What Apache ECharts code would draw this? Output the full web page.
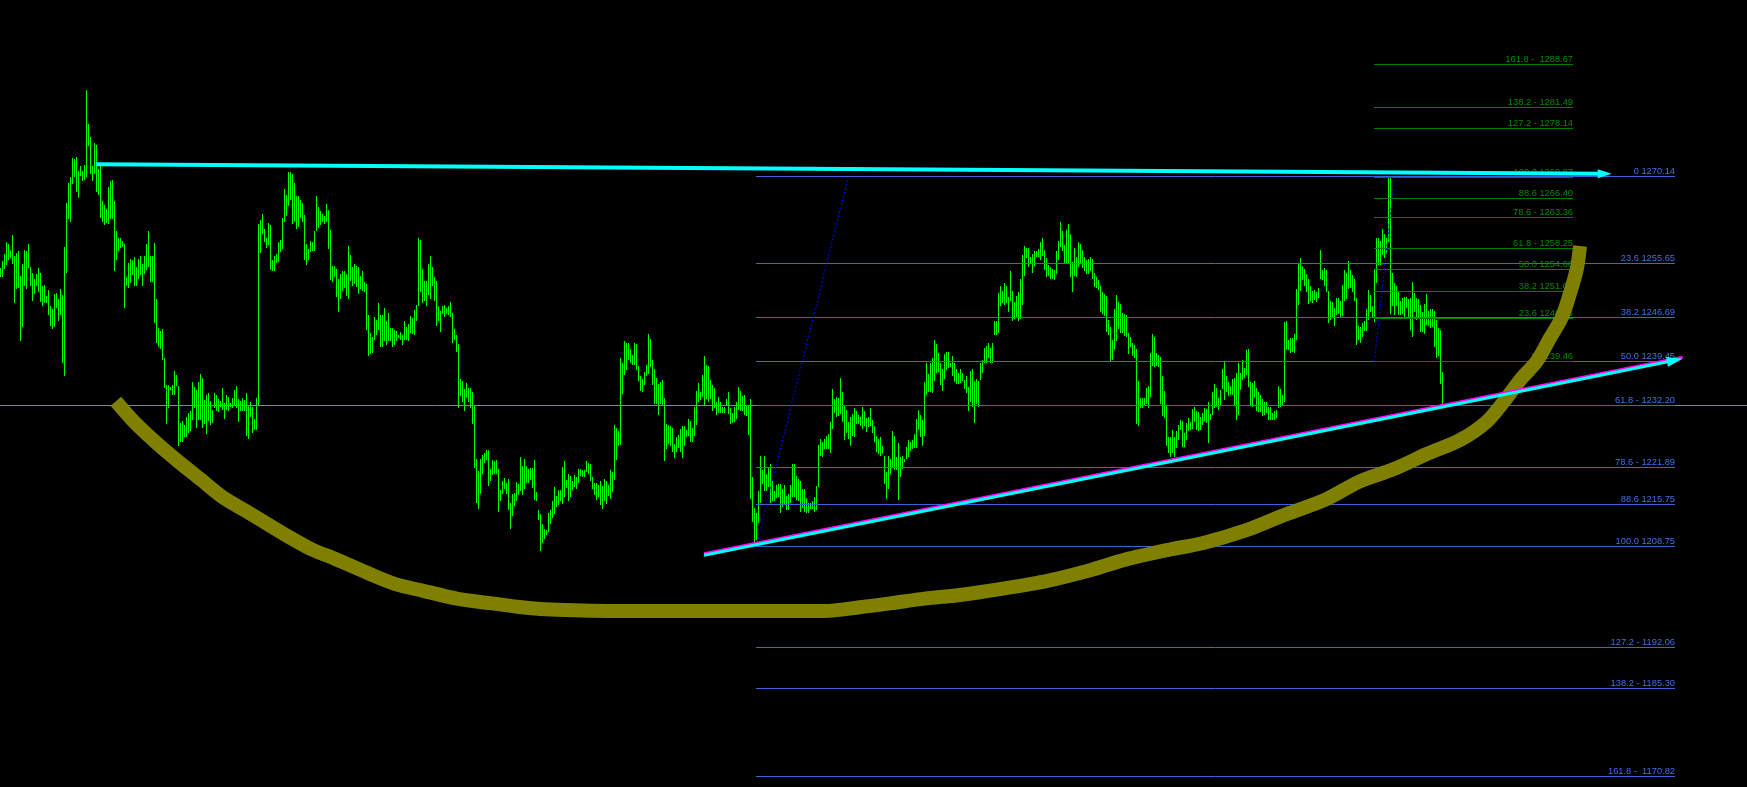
<!DOCTYPE html>
<html><head><meta charset="utf-8">
<script src="https://cdn.jsdelivr.net/npm/echarts@6.0.0/dist/echarts.min.js"></script>
<style>html,body{margin:0;padding:0;background:#000;overflow:hidden}#c{width:1747px;height:787px}</style>
</head><body><div id="c"></div>
<script>
// ---- price bars (one per bar index) ----
const highs = [
1254.9,1256.1,1257.3,1259.2,1259.0,1257.9,1260.4,1257.0,1257.4,1257.8,
1253.6,1255.7,1257.9,1257.7,1258.9,1255.1,1254.2,1253.1,1254.0,1255.0,
1254.2,1251.9,1252.1,1250.3,1251.3,1248.7,1248.1,1250.7,1250.8,1249.8,
1251.4,1250.5,1258.4,1265.8,1269.0,1270.0,1273.1,1273.0,1273.3,1271.0,
1271.9,1271.1,1272.0,1284.4,1278.8,1276.6,1271.9,1275.6,1275.3,1271.4,
1271.9,1266.1,1265.4,1264.8,1268.4,1269.3,1269.5,1266.1,1261.1,1260.0,
1260.0,1259.5,1258.9,1253.4,1255.8,1256.4,1256.3,1256.8,1255.2,1256.4,
1257.0,1255.7,1256.9,1258.9,1261.1,1256.9,1257.0,1259.1,1249.9,1245.0,
1244.6,1244.8,1240.0,1235.6,1235.6,1235.3,1235.6,1237.9,1237.2,1235.4,
1229.3,1229.6,1229.0,1230.3,1230.9,1231.3,1236.0,1235.3,1234.7,1236.1,
1237.4,1236.7,1233.1,1233.9,1234.2,1232.9,1231.4,1234.2,1233.9,1233.2,
1233.0,1235.0,1232.6,1233.9,1233.6,1232.6,1233.5,1234.7,1235.4,1233.2,
1232.9,1233.4,1233.1,1234.2,1232.1,1232.7,1232.0,1229.9,1233.5,1262.2,
1262.9,1263.9,1261.4,1260.0,1262.4,1262.1,1256.3,1256.9,1257.3,1259.3,
1259.6,1263.2,1268.0,1267.0,1270.8,1270.8,1270.5,1269.1,1266.9,1266.9,
1266.2,1265.7,1263.7,1258.9,1258.1,1259.4,1259.2,1261.1,1266.9,1265.1,
1264.4,1263.9,1263.5,1265.6,1264.6,1261.3,1255.3,1255.3,1254.8,1253.1,
1254.0,1254.4,1254.5,1253.9,1258.6,1257.1,1255.2,1255.6,1255.3,1255.1,
1253.7,1254.5,1252.6,1252.3,1247.1,1244.2,1243.5,1246.9,1246.3,1249.1,
1247.1,1247.2,1248.3,1246.2,1247.5,1245.0,1245.1,1244.7,1244.5,1243.9,
1244.4,1243.8,1246.2,1245.2,1245.7,1247.0,1246.6,1248.0,1248.9,1260.0,
1259.6,1254.8,1252.8,1252.8,1255.6,1256.9,1255.2,1253.4,1252.8,1248.7,
1247.8,1248.6,1248.8,1248.4,1248.6,1249.3,1247.5,1244.9,1243.9,1242.4,
1236.5,1236.2,1234.9,1235.9,1235.1,1235.1,1234.4,1232.1,1223.3,1221.3,
1223.3,1224.0,1224.3,1224.8,1224.8,1221.7,1223.2,1223.0,1223.2,1221.7,
1218.2,1219.6,1220.1,1219.4,1220.0,1216.1,1217.5,1217.7,1219.5,1219.2,
1223.6,1222.2,1223.3,1222.2,1221.7,1221.9,1221.9,1223.2,1217.9,1214.8,
1214.2,1212.6,1211.7,1211.6,1214.4,1214.9,1216.3,1218.7,1217.2,1218.2,
1218.2,1222.0,1223.0,1219.8,1220.8,1220.5,1219.7,1220.6,1220.4,1221.6,
1221.7,1221.5,1221.5,1223.0,1222.6,1222.5,1220.4,1219.4,1219.3,1219.0,
1219.6,1218.8,1220.0,1219.7,1219.0,1221.5,1221.1,1228.9,1228.4,1228.0,
1240.0,1239.3,1242.9,1242.5,1242.6,1241.6,1240.5,1242.5,1242.4,1238.7,
1237.1,1236.6,1237.8,1238.9,1244.0,1243.2,1239.7,1238.2,1236.8,1235.7,
1236.0,1236.4,1233.5,1229.1,1228.9,1228.8,1228.5,1225.8,1226.9,1227.3,
1228.3,1228.8,1228.8,1228.1,1229.9,1229.6,1228.4,1231.9,1234.6,1235.9,
1234.4,1237.2,1240.4,1238.9,1238.7,1236.4,1235.6,1235.0,1232.7,1233.6,
1232.7,1232.0,1231.9,1233.3,1234.4,1231.7,1231.0,1232.0,1232.7,1235.3,
1234.6,1233.8,1233.9,1232.1,1232.1,1233.3,1220.4,1215.2,1214.4,1218.0,
1223.8,1221.5,1223.8,1220.8,1221.9,1222.5,1219.7,1218.0,1219.0,1219.2,
1219.2,1218.3,1219.0,1217.2,1217.5,1219.0,1222.5,1222.5,1220.5,1220.0,
1219.6,1218.4,1218.4,1216.8,1216.1,1216.1,1216.4,1217.1,1218.9,1225.6,
1226.7,1226.2,1226.6,1227.1,1227.5,1229.4,1234.9,1233.3,1233.6,1233.5,
1236.7,1234.5,1232.3,1231.4,1229.4,1230.3,1230.8,1231.7,1231.3,1230.6,
1230.3,1232.0,1231.3,1230.1,1230.3,1231.7,1229.8,1228.8,1227.2,1226.7,
1226.9,1225.5,1223.8,1221.2,1223.8,1223.4,1228.0,1227.1,1223.7,1225.9,
1223.6,1223.8,1223.3,1225.3,1226.5,1226.1,1226.4,1227.4,1229.9,1231.5,
1230.6,1229.8,1236.0,1239.3,1237.4,1239.3,1240.0,1243.1,1242.4,1240.8,
1239.3,1238.2,1240.7,1241.0,1241.0,1239.3,1240.4,1239.2,1238.3,1237.5,
1238.2,1237.6,1236.4,1237.1,1235.2,1237.9,1238.2,1236.3,1236.6,1236.2,
1239.2,1239.8,1241.7,1242.0,1242.6,1241.7,1242.5,1246.1,1246.2,1250.8,
1252.0,1251.2,1252.4,1252.0,1250.1,1254.4,1251.2,1249.4,1250.3,1251.0,
1253.1,1257.1,1258.6,1258.3,1258.2,1256.8,1257.3,1257.8,1257.8,1258.1,
1259.2,1260.0,1257.9,1256.6,1255.5,1255.2,1254.8,1254.6,1257.7,1259.5,
1262.5,1261.1,1258.8,1261.3,1262.2,1260.6,1256.0,1258.3,1256.7,1259.2,
1258.9,1257.9,1256.8,1256.2,1256.4,1256.7,1256.4,1254.2,1253.4,1253.0,
1252.0,1251.0,1250.6,1250.3,1246.3,1245.2,1243.0,1248.2,1250.5,1249.4,
1249.0,1247.5,1247.3,1247.1,1244.2,1243.5,1242.6,1242.2,1241.5,1236.2,
1233.4,1233.4,1233.4,1235.1,1235.4,1240.8,1244.0,1243.6,1240.9,1240.5,
1240.2,1237.1,1234.6,1232.3,1226.9,1227.0,1228.2,1226.9,1227.9,1229.0,
1229.7,1229.6,1227.6,1229.3,1230.1,1229.5,1231.6,1232.0,1231.3,1231.1,
1230.2,1230.9,1231.8,1231.6,1232.7,1230.8,1234.5,1235.7,1235.0,1233.5,
1234.8,1238.3,1239.4,1237.1,1236.0,1235.4,1236.6,1236.7,1237.5,1239.2,
1237.6,1239.8,1238.4,1241.3,1241.5,1236.0,1235.9,1236.3,1235.0,1234.5,
1233.9,1233.3,1232.7,1232.7,1232.0,1232.0,1230.9,1231.2,1231.5,1235.4,
1234.9,1233.9,1246.0,1246.2,1243.0,1243.4,1243.3,1244.0,1251.5,1255.6,
1256.6,1255.3,1254.8,1254.0,1253.2,1251.9,1251.1,1251.3,1250.9,1251.7,
1257.9,1254.6,1254.9,1254.6,1251.1,1249.5,1249.4,1248.4,1250.0,1250.0,
1249.5,1252.1,1254.6,1254.1,1256.1,1254.7,1253.8,1253.2,1250.0,1245.3,
1245.2,1245.8,1246.1,1248.2,1251.3,1250.5,1248.6,1254.6,1259.9,1260.0,
1259.4,1261.4,1260.6,1260.0,1269.9,1269.9,1254.2,1252.4,1252.0,1250.9,
1249.5,1250.0,1250.1,1250.1,1249.9,1250.0,1252.6,1250.8,1250.0,1249.8,
1248.8,1247.7,1249.0,1250.6,1247.9,1248.2,1248.2,1247.8,1246.3,1245.1,
1244.7,1237.7
];
const lows = [
1253.5,1253.4,1254.8,1255.5,1256.3,1256.6,1255.6,1249.1,1251.5,1251.6,
1242.8,1245.2,1252.0,1251.5,1255.0,1251.9,1249.5,1250.7,1251.9,1250.9,
1249.4,1248.7,1249.1,1249.1,1247.2,1245.4,1244.8,1245.2,1248.4,1246.1,
1247.2,1239.3,1237.0,1254.1,1263.1,1262.6,1268.9,1270.1,1267.6,1266.5,
1270.2,1269.3,1269.5,1270.1,1275.1,1270.5,1269.4,1270.6,1267.6,1267.0,
1263.2,1262.5,1262.0,1262.4,1262.2,1263.0,1263.0,1254.5,1256.2,1257.8,
1258.2,1258.5,1248.4,1251.9,1251.6,1252.5,1253.8,1251.9,1251.9,1253.1,
1253.8,1252.0,1254.0,1254.7,1255.2,1252.7,1252.7,1245.9,1242.6,1241.8,
1241.5,1239.7,1235.1,1229.2,1231.7,1234.7,1233.9,1233.9,1235.4,1225.4,
1226.2,1226.2,1227.0,1227.0,1227.7,1228.0,1229.8,1231.7,1228.4,1229.8,
1229.7,1228.4,1229.2,1227.4,1229.6,1229.0,1229.3,1231.7,1231.2,1231.1,
1232.0,1231.5,1229.9,1231.5,1231.3,1231.9,1231.7,1232.2,1231.7,1229.5,
1231.3,1231.2,1231.2,1227.2,1226.6,1230.3,1227.7,1228.1,1228.2,1232.2,
1257.5,1260.6,1259.3,1258.3,1258.7,1254.7,1254.4,1254.5,1255.8,1256.0,
1257.6,1258.1,1262.5,1263.5,1265.2,1266.2,1262.2,1262.6,1261.4,1261.8,
1263.2,1262.6,1256.2,1255.5,1256.2,1257.6,1257.7,1257.7,1261.0,1261.6,
1262.1,1262.5,1262.2,1262.5,1258.1,1253.0,1252.7,1253.4,1250.2,1247.7,
1249.8,1251.2,1251.7,1250.4,1249.8,1252.8,1251.9,1252.3,1251.8,1250.7,
1251.5,1251.2,1250.9,1244.7,1240.4,1240.7,1240.8,1243.0,1243.9,1244.7,
1241.8,1241.8,1242.9,1242.2,1242.9,1242.8,1241.9,1242.2,1242.9,1243.4,
1243.0,1242.2,1243.0,1243.0,1242.9,1244.2,1244.0,1243.8,1246.2,1248.7,
1251.0,1249.2,1249.5,1248.6,1250.5,1249.8,1251.9,1249.5,1245.4,1246.2,
1244.4,1247.3,1246.9,1247.3,1247.2,1246.9,1242.6,1243.0,1241.1,1231.7,
1233.8,1232.7,1231.2,1233.4,1232.7,1231.8,1229.2,1221.9,1216.1,1215.0,
1217.6,1220.8,1222.7,1223.2,1218.9,1219.6,1220.6,1220.9,1220.9,1214.6,
1216.4,1217.6,1218.4,1217.5,1214.8,1211.7,1213.8,1215.6,1216.4,1217.4,
1218.1,1217.4,1218.4,1219.3,1219.4,1219.8,1218.5,1216.5,1216.3,1213.2,
1208.1,1209.4,1210.1,1210.7,1211.3,1212.6,1213.6,1214.2,1215.4,1215.7,
1216.4,1215.9,1217.1,1218.5,1216.3,1217.1,1218.2,1218.7,1218.3,1219.3,
1220.5,1220.4,1220.4,1221.1,1220.9,1219.6,1218.3,1217.3,1216.5,1217.1,
1215.7,1215.1,1216.3,1215.9,1217.2,1216.7,1217.9,1219.8,1223.2,1225.5,
1225.6,1234.1,1237.2,1238.1,1239.8,1239.2,1238.9,1238.9,1238.0,1236.3,
1234.6,1234.4,1235.6,1237.0,1237.4,1238.5,1235.6,1232.4,1232.4,1230.6,
1232.4,1232.3,1223.0,1225.0,1225.8,1225.5,1224.5,1223.5,1224.4,1225.2,
1224.5,1223.5,1225.5,1226.9,1227.1,1226.1,1226.2,1227.1,1228.9,1232.8,
1233.1,1233.6,1232.1,1233.2,1232.8,1233.3,1231.2,1231.7,1230.6,1231.0,
1230.9,1231.0,1231.0,1232.1,1230.7,1229.2,1229.3,1229.5,1229.9,1231.4,
1231.3,1231.2,1230.6,1230.4,1227.3,1216.7,1212.9,1209.3,1209.9,1212.7,
1216.0,1219.2,1218.0,1218.0,1218.7,1216.1,1216.4,1216.4,1216.8,1217.0,
1214.4,1215.4,1215.9,1214.8,1214.8,1216.0,1217.0,1217.0,1216.6,1216.4,
1214.6,1215.2,1214.6,1214.4,1214.4,1215.0,1215.0,1214.6,1214.9,1218.7,
1223.8,1223.7,1224.9,1225.0,1225.0,1224.3,1228.3,1231.0,1230.3,1230.5,
1230.8,1229.4,1226.5,1227.7,1226.7,1225.4,1227.1,1227.0,1229.1,1229.1,
1228.8,1228.3,1228.8,1227.8,1228.7,1228.8,1227.7,1226.1,1224.5,1224.1,
1223.8,1224.1,1219.2,1216.7,1218.4,1220.9,1221.8,1221.5,1221.5,1216.5,
1220.4,1221.7,1222.9,1223.3,1223.7,1224.6,1225.0,1225.1,1225.2,1228.1,
1226.9,1225.5,1227.1,1233.9,1234.5,1234.4,1234.3,1236.3,1237.5,1237.7,
1235.6,1234.6,1236.5,1238.1,1238.4,1238.6,1237.1,1236.0,1235.7,1235.7,
1235.9,1236.3,1234.9,1234.3,1231.3,1232.7,1232.0,1229.3,1232.4,1231.9,
1236.4,1237.6,1239.2,1239.3,1240.1,1239.3,1239.3,1243.9,1243.9,1244.2,
1248.6,1249.1,1248.8,1249.1,1247.7,1249.5,1246.1,1246.5,1246.9,1246.1,
1246.5,1248.8,1253.7,1256.6,1255.2,1255.7,1254.1,1255.3,1256.8,1256.8,
1256.2,1256.9,1254.6,1253.4,1253.6,1253.2,1253.1,1253.0,1254.0,1256.2,
1258.5,1257.8,1255.8,1255.8,1255.8,1253.4,1251.0,1253.6,1253.4,1255.2,
1255.8,1255.0,1254.5,1254.0,1254.0,1254.5,1253.1,1251.8,1251.7,1251.3,
1247.6,1247.3,1247.0,1244.4,1243.9,1239.6,1239.8,1241.3,1242.8,1244.9,
1244.2,1244.2,1243.7,1243.6,1240.7,1241.9,1240.3,1240.0,1229.1,1228.8,
1231.7,1231.7,1232.3,1232.4,1231.7,1233.6,1238.7,1238.5,1238.7,1238.6,
1232.5,1230.4,1230.1,1225.4,1224.3,1223.7,1224.3,1223.7,1225.1,1226.5,
1228.1,1225.3,1225.3,1226.5,1227.9,1228.1,1228.3,1229.5,1228.1,1227.9,
1228.1,1229.0,1229.6,1229.3,1226.0,1229.8,1230.6,1231.7,1231.9,1231.5,
1232.3,1234.9,1233.1,1234.5,1233.8,1233.9,1233.9,1232.2,1229.8,1230.6,
1234.8,1236.4,1236.8,1237.2,1235.3,1232.3,1232.0,1233.5,1231.3,1231.1,
1231.1,1230.5,1230.6,1230.9,1229.8,1229.8,1229.8,1229.8,1230.1,1231.7,
1231.9,1232.2,1232.8,1241.4,1241.3,1240.8,1241.1,1240.8,1243.0,1248.8,
1251.1,1253.0,1252.0,1250.9,1249.0,1249.4,1249.2,1249.7,1249.4,1250.0,
1253.1,1253.0,1252.0,1251.0,1245.8,1246.3,1246.9,1245.3,1247.2,1247.3,
1246.9,1247.0,1249.5,1249.8,1251.4,1251.7,1250.9,1249.5,1242.2,1243.0,
1242.6,1243.6,1244.5,1244.6,1246.3,1247.7,1246.9,1246.0,1252.4,1255.5,
1255.5,1257.1,1256.6,1257.3,1259.3,1247.4,1248.7,1247.2,1248.6,1247.2,
1247.2,1247.4,1246.8,1248.3,1246.9,1244.7,1243.6,1247.7,1246.3,1246.9,
1244.4,1244.4,1244.1,1245.5,1245.3,1245.0,1245.2,1241.9,1240.0,1240.3,
1235.7,1232.2
];

// ---- Fibonacci levels ----
const blueFibPct    = ['0','23.6','38.2','50.0','61.8','78.6','88.6','100.0','127.2','138.2','161.8'];
const blueFibSep    = [' ',' ',' ',' ',' - ',' - ',' ',' ',' - ',' - ',' -  '];
const blueFibPrices = [1270.14,1255.65,1246.69,1239.45,1232.20,1221.89,1215.75,1208.75,1192.06,1185.30,1170.82];
const blueFibFrom = 377.75, blueFibTo = 837.25;

const greenFibPct    = ['161.8','138.2','127.2','100.0','88.6','78.6','61.8','50.0','38.2','23.6','0'];
const greenFibSep    = [' -  ',' - ',' - ',' ',' ',' - ',' - ',' ',' ',' ',' '];
const greenFibPrices = [1288.67,1281.49,1278.14,1269.87,1266.40,1263.36,1258.25,1254.66,1251.07,1246.63,1239.46];
const greenFibFrom = 686.75, greenFibTo = 786.25;

// current price line
const bidPrice = 1232.20;

// ---- drawn objects (bar index, price) ----
const topArrowX = [47.6, 805.6];
const topArrowP = [1272.13, 1270.57];
const trendArrowX = [351.75, 841.1];
const trendArrowP = [1207.39, 1239.93];
const trendMagentaP = [1207.64, 1240.18];
const dottedAX = [378.25, 423.75], dottedAP = [1209.4, 1269.81];
const dottedBX = [686.9, 696.9],   dottedBP = [1239.46, 1269.87];
const cupX = [57.7,66.6,77.75,88.9,100.05,111.15,122.3,133.45,144.6,155.75,166.9,183.6,197.5,211.45,228.15,244.85,261.6,278.3,311.75,412.0,428.75,445.45,462.15,478.85,501.15,523.4,545.7,562.4,584.7,601.4,623.7,640.4,662.7,679.4,696.4,713.1,729.75,743.1,752.25,760.25,768.25,774.75,780.75,785.25,788.25,789.75];
const cupP = [1232.88,1229.55,1226.05,1222.91,1219.96,1216.99,1214.79,1212.57,1210.35,1208.33,1206.84,1204.44,1202.60,1201.49,1200.20,1199.45,1198.73,1198.36,1198.16,1198.16,1198.73,1199.45,1200.20,1200.76,1201.86,1203.15,1205.00,1206.66,1208.33,1209.42,1211.64,1213.86,1216.63,1219.59,1221.61,1224.15,1226.47,1229.50,1233.09,1236.57,1239.55,1243.36,1246.84,1251.31,1254.95,1258.58];

const FONT = '9.3px "Liberation Sans", Arial, sans-serif';
const chart = echarts.init(document.getElementById('c'), null, {renderer:'canvas'});

const barData = highs.map((h,i)=>[i, h, lows[i]]);

function fibSeries(pcts, seps, prices, x0, x1, lineColor, textColor){
  return {
    type:'custom', coordinateSystem:'cartesian2d', silent:true, z:3,
    data: prices.map(p=>[x0, p]), encode:{x:0,y:1},
    renderItem(params, api){
      const i = params.dataIndex;
      const p = api.value(1);
      const a = api.coord([x0, p]), b = api.coord([x1, p]);
      const y = Math.floor(a[1]) + 0.5;
      return {type:'group', children:[
        {type:'line', shape:{x1:Math.round(a[0]), y1:y, x2:Math.round(b[0]), y2:y}, style:{stroke:lineColor, lineWidth:1}},
        {type:'text', x:Math.round(b[0]), y:y-0.5, style:{text:pcts[i]+seps[i]+prices[i].toFixed(2), fill:textColor, font:FONT, align:'right', verticalAlign:'bottom'}}
      ]};
    }
  };
}

function arrowSeries(xs, ps, color, width, headLen, headHalf, z){
  return {
    type:'custom', coordinateSystem:'cartesian2d', silent:true, z:z,
    data:[[xs[0], ps[0], xs[1], ps[1]]], encode:{x:[0,2], y:[1,3]},
    renderItem(params, api){
      const a = api.coord([api.value(0), api.value(1)]);
      const b = api.coord([api.value(2), api.value(3)]);
      const dx = b[0]-a[0], dy = b[1]-a[1], L = Math.hypot(dx,dy);
      const ux = dx/L, uy = dy/L, nx = -uy, ny = ux;
      const bx = b[0]-ux*headLen, by = b[1]-uy*headLen;
      return {type:'group', children:[
        {type:'line', shape:{x1:a[0], y1:a[1], x2:bx+ux*2, y2:by+uy*2}, style:{stroke:color, lineWidth:width}},
        {type:'polygon', shape:{points:[[b[0],b[1]],[bx+nx*headHalf, by+ny*headHalf],[bx-nx*headHalf, by-ny*headHalf]]}, style:{fill:color}}
      ]};
    }
  };
}

function segSeries(xs, ps, color, width, dash, z){
  return {
    type:'line', silent:true, z:z, symbol:'none', animation:false,
    data: xs.map((x,i)=>[x, ps[i]]),
    lineStyle:{color:color, width:width, type:dash||'solid'}
  };
}

const option = {
  backgroundColor:'#000000',
  animation:false,
  grid:{left:0, right:0, top:0, bottom:0},
  xAxis:{type:'value', min:-0.25, max:873.25, show:false},
  yAxis:{type:'value', min:1169.0, max:1299.34, show:false},
  series:[
    {
      type:'custom', coordinateSystem:'cartesian2d', silent:true, z:2,
      data: barData, encode:{x:0, y:[1,2]},
      renderItem(params, api){
        const x = api.value(0);
        const t = api.coord([x, api.value(1)]);
        const b = api.coord([x, api.value(2)]);
        const top = Math.round(t[1]);
        return {type:'rect', shape:{x:Math.round(t[0]-0.5), y:top, width:1, height:Math.max(1, Math.round(b[1])-top)}, style:{fill:'#00ff00'}};
      }
    },
    {
      type:'custom', coordinateSystem:'cartesian2d', silent:true, z:3,
      data:[[-0.25, bidPrice]], encode:{x:0,y:1},
      renderItem(params, api){
        const a = api.coord([-0.25, api.value(1)]);
        const y = Math.floor(a[1]) + 0.5;
        return {type:'line', shape:{x1:0, y1:y, x2:1747, y2:y}, style:{stroke:'#7d8a9c', lineWidth:1}};
      }
    },
    fibSeries(blueFibPct, blueFibSep, blueFibPrices, blueFibFrom, blueFibTo, '#3a63d8', '#4470e6'),
    fibSeries(greenFibPct, greenFibSep, greenFibPrices, greenFibFrom, greenFibTo, '#008000', '#008c00'),
    {
      type:'line', silent:true, z:4, symbol:'none', smooth:0.3,
      data: cupX.map((x,i)=>[x, cupP[i]]),
      lineStyle:{color:'#808000', width:14, cap:'butt', join:'round'}
    },
    segSeries(dottedAX, dottedAP, '#0000ff', 1, [2,2], 5),
    segSeries(dottedBX, dottedBP, '#0000ff', 1, [2,2], 5),
    segSeries(trendArrowX, trendMagentaP, '#ff00ff', 3, 'solid', 6),
    arrowSeries(trendArrowX, trendArrowP, '#00ffff', 3, 16, 5, 7),
    arrowSeries(topArrowX, topArrowP, '#00ffff', 4, 14, 4.5, 7)
  ]
};
chart.setOption(option);
</script>
</body></html>
